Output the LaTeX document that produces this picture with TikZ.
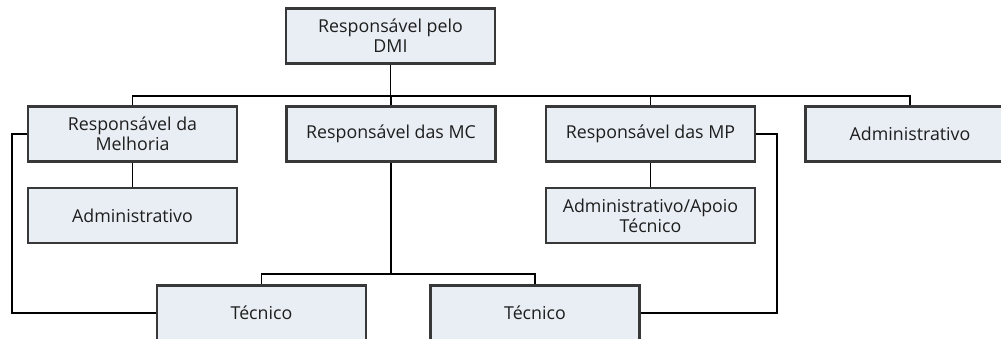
\documentclass[tikz,border=0pt]{standalone}
\usepackage{fontspec}
\setmainfont{Open Sans}
\definecolor{boxfill}{HTML}{E8EEF4}
\definecolor{boxline}{HTML}{383838}
\definecolor{textgray}{HTML}{1E1E1E}
\begin{document}
\begin{tikzpicture}[x=1pt,y=-1pt,
  orgbox/.style={draw=boxline, line width=2.4pt, fill=boxfill,
    minimum width=209pt, minimum height=55pt, inner sep=0pt,
    align=center, text=textgray, font=\fontsize{17.8}{20}\selectfont},
  link/.style={draw=black, line width=1.1pt}]
\useasboundingbox (0,0) rectangle (1001,338);

% boxes
\node[orgbox] (dmi)      at (390.5, 36)  {Responsável pelo\\DMI};
\node[orgbox] (melhoria) at (132.5,134)  {Responsável da\\Melhoria};
\node[orgbox] (mc)       at (391,  134)  {Responsável das MC};
\node[orgbox] (mp)       at (650.5,134)  {Responsável das MP};
\node[orgbox] (admR)     at (910,  134)  {Administrativo};
\node[orgbox] (admL)     at (132.5,215.5){Administrativo};
\node[orgbox] (apoio)    at (650.5,215.5){Administrativo/Apoio\\Técnico};
\node[orgbox] (tec1)     at (261.5,313)  {Técnico};
\node[orgbox] (tec2)     at (535,  313)  {Técnico};

% helper coordinates for the bus lines
\coordinate (bus)  at (0,96);
\coordinate (tbus) at (0,274);
\coordinate (lx)   at (12,0);
\coordinate (rx)   at (777,0);

% top level
\draw[link] (dmi.south) -- (dmi.south |- bus);
\draw[link] (melhoria.north) -- (melhoria.north |- bus) -| (admR.north);
\draw[link] (mc.north) -- (mc.north |- bus);
\draw[link] (mp.north) -- (mp.north |- bus);

% second level
\draw[link] (melhoria.south) -- (admL.north);
\draw[link] (mp.south) -- (apoio.north);
\draw[link] (mc.south) -- (mc.south |- tbus);
\draw[link] (tec1.north) -- (tec1.north |- tbus) -| (tec2.north);

% side links to the technicians
\draw[link] (melhoria.west) -- (lx |- melhoria.west) -- (lx |- tec1.west) -- (tec1.west);
\draw[link] (mp.east) -- (rx |- mp.east) -- (rx |- tec2.east) -- (tec2.east);
\end{tikzpicture}
\end{document}
